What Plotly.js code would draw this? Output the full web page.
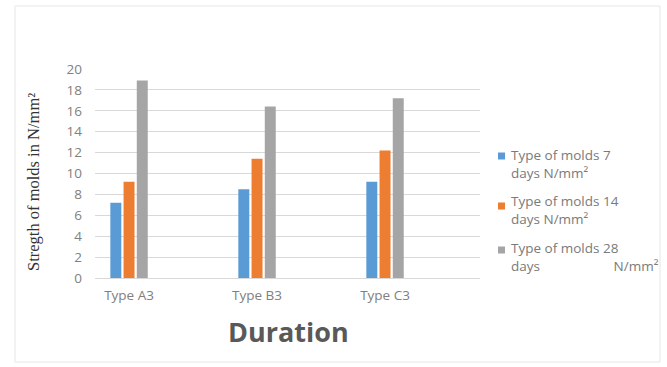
<!DOCTYPE html>
<html>
<head>
<meta charset="utf-8">
<script src="https://cdn.plot.ly/plotly-3.0.1.min.js"></script>
<style>
  html, body { margin: 0; padding: 0; background: #ffffff; }
  #chart { width: 667px; height: 367px; }
</style>
</head>
<body>
<div id="chart"></div>
<script>
// Mold types on the category axis
const categories = ['Type A3', 'Type B3', 'Type C3'];

// Strength (N/mm²) after each curing period
const days7 = [7.2, 8.5, 9.2];
const days14 = [9.2, 11.4, 12.2];
const days28 = [18.9, 16.4, 17.2];

const seriesNames = [
  'Type of molds 7<br>days N/mm²',
  'Type of molds 14<br>days N/mm²',
  'Type of molds 28<br>days' + '\u00A0'.repeat(21) + 'N/mm²'
];

const yTicks = [0, 2, 4, 6, 8, 10, 12, 14, 16, 18, 20];

const colors = ['#5B9BD5', '#ED7D31', '#A5A5A5'];
const font = 'Open Sans, Noto Sans, sans-serif';

// plot area in pixels, used to place the frame and legend in paper units
const W = 667, H = 367;
const plotL = 95, plotR = 480, plotT = 69, plotB = 278;
const px = v => (v - plotL) / (plotR - plotL);
const py = v => (plotB - v) / (plotB - plotT);

const traces = [days7, days14, days28].map((vals, i) => ({
  type: 'bar',
  x: categories,
  y: vals,
  name: seriesNames[i],
  marker: { color: colors[i] },
  showlegend: false,
  hoverinfo: 'x+y'
}));

// legend: small colour key plus two-line label for each series
const legendCenters = [164, 210, 257];
const keyCenters = [156, 206, 250];
const legendShapes = colors.map((c, i) => ({
  type: 'rect', xref: 'paper', yref: 'paper',
  x0: px(498), x1: px(505),
  y0: py(keyCenters[i] + 3.5), y1: py(keyCenters[i] - 3.5),
  fillcolor: c, line: { width: 0 }
}));
const legendNotes = seriesNames.map((name, i) => ({
  text: name,
  xref: 'paper', yref: 'paper',
  x: px(509), y: py(legendCenters[i]),
  xanchor: 'left', yanchor: 'middle', align: 'left',
  showarrow: false,
  font: { family: font, size: 13.5, color: '#7a7a7a' }
}));

const layout = {
  width: W,
  height: H,
  margin: { l: plotL, r: W - plotR, t: plotT, b: H - plotB },
  paper_bgcolor: '#ffffff',
  plot_bgcolor: '#ffffff',
  barmode: 'group',
  bargap: 0.69,
  bargroupgap: 0.17,
  showlegend: false,
  xaxis: {
    type: 'category',
    range: [-0.266, 2.742],
    showgrid: false,
    zeroline: false,
    showline: true,
    linecolor: '#d9d9d9',
    linewidth: 1,
    ticks: '',
    ticklabelstandoff: 5,
    tickfont: { family: font, size: 13.5, color: '#808080' },
    fixedrange: true
  },
  yaxis: {
    range: [0, 20],
    tickvals: yTicks,
    ticktext: yTicks.map(String),
    showgrid: true,
    gridcolor: '#d9d9d9',
    gridwidth: 1,
    zeroline: false,
    showline: false,
    ticks: '',
    ticklabelstandoff: 12,
    tickfont: { family: font, size: 13.5, color: '#808080' },
    fixedrange: true
  },
  annotations: [
    {
      text: 'Stregth of molds in N/mm²',
      xref: 'paper', yref: 'paper',
      x: px(33), y: py(182),
      xanchor: 'center', yanchor: 'middle',
      textangle: -90,
      showarrow: false,
      font: { family: 'Liberation Serif, Times New Roman, serif', size: 16.5, color: '#333333' }
    },
    {
      text: '<b>Duration</b>',
      xref: 'paper', yref: 'paper',
      x: px(288), y: py(331),
      xanchor: 'center', yanchor: 'middle',
      showarrow: false,
      font: { family: font, size: 27, color: '#595959' }
    }
  ].concat(legendNotes),
  shapes: [
    // faint chart frame
    {
      type: 'rect', xref: 'paper', yref: 'paper',
      x0: px(15), x1: px(660),
      y0: py(362), y1: py(6),
      line: { color: '#e6e6e6', width: 1 },
      fillcolor: 'rgba(0,0,0,0)',
      layer: 'below'
    }
  ].concat(legendShapes)
};

Plotly.newPlot('chart', traces, layout, { displayModeBar: false, staticPlot: true });
</script>
</body>
</html>
